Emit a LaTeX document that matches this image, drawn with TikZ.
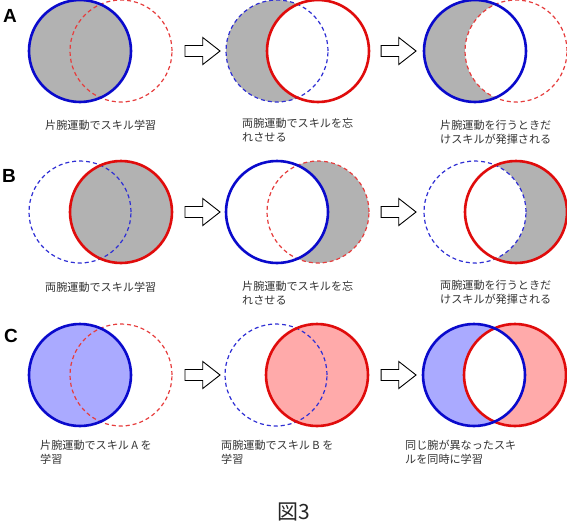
\documentclass[tikz,border=0pt]{standalone}
\usepackage{fontspec}
\usepackage{xcolor}
\usepackage{tikz}
\usetikzlibrary{shapes.arrows}
\newfontfamily\jpfont{Noto Sans CJK JP}
\newfontfamily\panelfont{Liberation Sans}
\definecolor{vdblue}{HTML}{0A0ACC}
\definecolor{vdred}{HTML}{E00C0C}
\definecolor{vdgray}{HTML}{B2B2B2}
\definecolor{vdlightblue}{HTML}{AAAAFF}
\definecolor{vdlightred}{HTML}{FFAAAA}
\definecolor{vdtext}{HTML}{333333}
\tikzset{
  vd solid blue/.style={draw=vdblue, line width=2.6pt},
  vd solid red/.style={draw=vdred, line width=2.6pt},
  vd dashed blue/.style={draw=vdblue!85!white, line width=1.2pt, dash pattern=on 4pt off 3pt},
  vd dashed red/.style={draw=vdred!80!white, line width=1.2pt, dash pattern=on 4pt off 3pt},
  vd arrow/.style={
    single arrow,
    draw=black,
    fill=white,
    line width=0.9pt,
    minimum height=35pt,
    minimum width=27pt,
    inner xsep=0pt,
    inner ysep=4.5pt,
    single arrow tip angle=76,
  },
  vd label/.style={
    anchor=west,
    align=left,
    inner sep=0pt,
    text=vdtext,
    font=\jpfont\fontsize{11.1}{14}\selectfont,
  },
  vd panel/.style={
    anchor=center,
    inner sep=0pt,
    font=\panelfont\bfseries\fontsize{19}{19}\selectfont,
  },
}

\begin{document}
\begin{tikzpicture}[x=1pt, y=-1pt]
  \useasboundingbox (0,0) rectangle (567,530);

  % circle centres
  \coordinate (a1b) at (80,51);   \coordinate (a1r) at (121,51);
  \coordinate (a2b) at (277,51);  \coordinate (a2r) at (318,51);
  \coordinate (a3b) at (475,51);  \coordinate (a3r) at (516,51);
  \coordinate (b1b) at (80,212);  \coordinate (b1r) at (121,212);
  \coordinate (b2b) at (277,212); \coordinate (b2r) at (318,212);
  \coordinate (b3b) at (475,212); \coordinate (b3r) at (516,212);
  \coordinate (c1b) at (80,375);  \coordinate (c1r) at (121,375);
  \coordinate (c2b) at (276,375); \coordinate (c2r) at (317,375);
  \coordinate (c3b) at (474,375); \coordinate (c3r) at (515,375);

  % row A
  \fill[vdgray] (a1b) circle[radius=51pt];
  \draw[vd dashed red] (a1r) circle[radius=51pt];
  \draw[vd solid blue] (a1b) circle[radius=51pt];

  \fill[vdgray] (a2b) circle[radius=51pt];
  \fill[white] (a2r) circle[radius=51pt];
  \draw[vd dashed blue] (a2b) circle[radius=51pt];
  \draw[vd solid red] (a2r) circle[radius=51pt];

  \fill[vdgray] (a3b) circle[radius=51pt];
  \fill[white] (a3r) circle[radius=51pt];
  \draw[vd dashed red] (a3r) circle[radius=51pt];
  \draw[vd solid blue] (a3b) circle[radius=51pt];

  % row B
  \fill[vdgray] (b1r) circle[radius=51pt];
  \draw[vd dashed blue] (b1b) circle[radius=51pt];
  \draw[vd solid red] (b1r) circle[radius=51pt];

  \fill[vdgray] (b2r) circle[radius=51pt];
  \fill[white] (b2b) circle[radius=51pt];
  \draw[vd dashed red] (b2r) circle[radius=51pt];
  \draw[vd solid blue] (b2b) circle[radius=51pt];

  \fill[vdgray] (b3r) circle[radius=51pt];
  \fill[white] (b3b) circle[radius=51pt];
  \draw[vd dashed blue] (b3b) circle[radius=51pt];
  \draw[vd solid red] (b3r) circle[radius=51pt];

  % row C
  \fill[vdlightblue] (c1b) circle[radius=51pt];
  \draw[vd dashed red] (c1r) circle[radius=51pt];
  \draw[vd solid blue] (c1b) circle[radius=51pt];

  \fill[vdlightred] (c2r) circle[radius=51pt];
  \draw[vd dashed blue] (c2b) circle[radius=51pt];
  \draw[vd solid red] (c2r) circle[radius=51pt];

  \fill[vdlightblue] (c3b) circle[radius=51pt];
  \fill[vdlightred] (c3r) circle[radius=51pt];
  \begin{scope}
    \clip (c3b) circle[radius=51pt];
    \fill[white] (c3r) circle[radius=51pt];
  \end{scope}
  \draw[vd solid red] (c3r) circle[radius=51pt];
  \draw[vd solid blue] (c3b) circle[radius=51pt];

  % arrows
  \node[vd arrow] (arA1) at (199,51) {};
  \node[vd arrow] (arA2) at (395,51) {};
  \node[vd arrow] (arB1) at (199,212) {};
  \node[vd arrow] (arB2) at (395,212) {};
  \node[vd arrow] (arC1) at (199,375) {};
  \node[vd arrow] (arC2) at (395,375) {};

  % panel letters
  \node[vd panel] (pA) at (10,16) {A};
  \node[vd panel] (pB) at (9,176) {B};
  \node[vd panel] (pC) at (11,336) {C};

  % labels
  \node[vd label] (lA1) at (45,125) {片腕運動でスキル学習};
  \node[vd label, anchor=north west] (lA2) at (242,118) {両腕運動でスキルを忘\\れさせる};
  \node[vd label, anchor=north west] (lA3) at (440,120) {片腕運動を行うときだ\\けスキルが発揮される};
  \node[vd label] (lB1) at (45,287) {両腕運動でスキル学習};
  \node[vd label, anchor=north west] (lB2) at (242,281) {片腕運動でスキルを忘\\れさせる};
  \node[vd label, anchor=north west] (lB3) at (440,280) {両腕運動を行うときだ\\けスキルが発揮される};
  \node[vd label, anchor=north west] (lC1) at (40,440) {片腕運動でスキル A を\\学習};
  \node[vd label, anchor=north west] (lC2) at (221,440) {両腕運動でスキル B を\\学習};
  \node[vd label, anchor=north west] (lC3) at (405,440) {同じ腕が異なったスキ\\ルを同時に学習};

  % caption
  \node[font=\jpfont\fontsize{21}{21}\selectfont, text=black!85] (cap) at (294,512) {図3};
\end{tikzpicture}
\end{document}
